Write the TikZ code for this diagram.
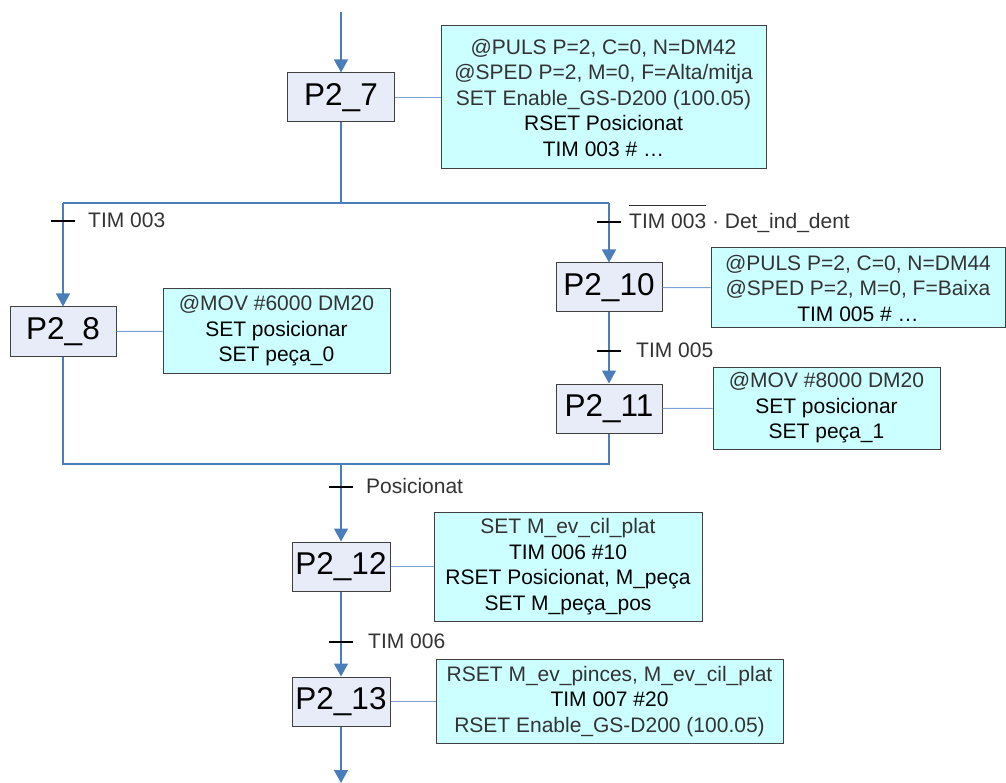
\documentclass[tikz,border=0pt]{standalone}
\usepackage{fontspec}
\setmainfont{Liberation Sans}
\usetikzlibrary{arrows.meta}
\definecolor{flow}{HTML}{4A7EBB}
\definecolor{link}{HTML}{7FA2D4}
\definecolor{stepfill}{HTML}{E8ECF8}
\definecolor{actfill}{HTML}{CCFFFF}
\definecolor{edge}{HTML}{404040}
\definecolor{soft}{HTML}{333333}
% negated condition: bar drawn over the text
\newcommand\negbar[1]{\setbox0=\hbox{#1}\rlap{\rule[1.1em]{\wd0}{0.9pt}}\box0\relax}
\begin{document}
\begin{tikzpicture}[x=1pt,y=-1pt,
  stepbox/.style={draw=edge, line width=1pt, fill=stepfill, minimum height=49pt,
    inner sep=0pt, font=\fontsize{31.5}{36}\selectfont},
  actbox/.style={draw=edge, line width=1pt, fill=actfill, inner sep=0pt,
    align=center, font=\fontsize{21}{25.5}\selectfont},
  flowline/.style={draw=flow, line width=1.3pt},
  arrowline/.style={flowline, -{Triangle[width=14pt,length=13pt]}},
  linkline/.style={draw=link, line width=1pt},
  tickmark/.style={draw=black, line width=1.2pt},
  cond/.style={text=soft, inner sep=0pt, anchor=base west,
    font=\fontsize{21}{25}\selectfont}]
\useasboundingbox (0,0) rectangle (1006,783);

% steps
\node[stepbox, minimum width=107pt] (s7)  at (341,97.5)  {P2\_7};
\node[stepbox, minimum width=106pt] (s8)  at (63,331.5)  {P2\_8};
\node[stepbox, minimum width=106pt] (s10) at (609,287.5) {P2\_10};
\node[stepbox, minimum width=106pt] (s11) at (609,408.5) {P2\_11};
\node[stepbox, minimum width=98pt]  (s12) at (341,566.5) {P2\_12};
\node[stepbox, minimum width=98pt]  (s13) at (341,701.5) {P2\_13};

% actions
\node[actbox, minimum width=325pt, minimum height=143pt] (a7) at (603.5,97.5)
  {{\color{soft}@PULS P=2, C=0, N=DM42}\\
   {\color{soft}@SPED P=2, M=0, F=Alta/mitja}\\
   {\color{soft}SET Enable\_GS-D200 (100.05)}\\
   RSET Posicionat\\
   TIM 003 \# \dots};
\node[actbox, minimum width=227pt, minimum height=84pt] (a8) at (276.5,331)
  {{\color{soft}@MOV \#6000 DM20}\\
   SET posicionar\\
   SET peça\_0};
\node[actbox, minimum width=294pt, minimum height=80pt] (a10) at (858,288)
  {{\color{soft}@PULS P=2, C=0, N=DM44}\\
   {\color{soft}@SPED P=2, M=0, F=Baixa}\\
   TIM 005 \# \dots};
\node[actbox, minimum width=227pt, minimum height=82pt] (a11) at (826.5,408)
  {{\color{soft}@MOV \#8000 DM20}\\
   SET posicionar\\
   SET peça\_1};
\node[actbox, minimum width=268pt, minimum height=109pt] (a12) at (568,566.5)
  {{\color{soft}SET M\_ev\_cil\_plat}\\
   TIM 006 \#10\\
   RSET Posicionat, M\_peça\\
   SET M\_peça\_pos};
\node[actbox, minimum width=347pt, minimum height=84pt] (a13) at (609.5,701.5)
  {{\color{soft}RSET M\_ev\_pinces, M\_ev\_cil\_plat}\\
   TIM 007 \#20\\
   {\color{soft}RSET Enable\_GS-D200 (100.05)}};

% step-to-action links
\foreach \s/\a in {s7/a7, s8/a8, s10/a10, s11/a11, s12/a12, s13/a13}
  \draw[linkline] (\s) -- (\a);

% flow
\coordinate (in)    at (341,12);
\coordinate (split) at (341,203);
\coordinate (bl)    at (63,203);
\coordinate (br)    at (609,203);
\coordinate (ml)    at (63,464);
\coordinate (mr)    at (609,464);
\coordinate (mm)    at (341,464);
\coordinate (out)   at (341,783);

\draw[arrowline] (in) -- (s7);
\draw[flowline] (s7) -- (split);
\draw[flowline] (bl) -- (br);
\draw[arrowline] (bl) -- (s8);
\draw[arrowline] (br) -- (s10);
\draw[arrowline] (s10) -- (s11);
\draw[flowline] (s8) -- (ml) -- (mr) -- (s11);
\draw[arrowline] (mm) -- (s12);
\draw[arrowline] (s12) -- (s13);
\draw[arrowline] (s13) -- (out);

% transitions
\coordinate (t1) at (63,221);
\coordinate (t2) at (609,222);
\coordinate (t3) at (609,351);
\coordinate (t4) at (341,487);
\coordinate (t5) at (341,642);
\foreach \t in {t1,t2,t3,t4,t5}
  \draw[tickmark] ([xshift=-12pt]\t) -- ([xshift=12pt]\t);

\node[cond] (c1) at (88,227.5)  {TIM 003};
\node[cond] (c2) at (629,229)   {\negbar{TIM 003} · Det\_ind\_dent};
\node[cond] (c3) at (636,357)   {TIM 005};
\node[cond] (c4) at (366,493.5) {Posicionat};
\node[cond] (c5) at (368,648.5) {TIM 006};
\end{tikzpicture}
\end{document}
